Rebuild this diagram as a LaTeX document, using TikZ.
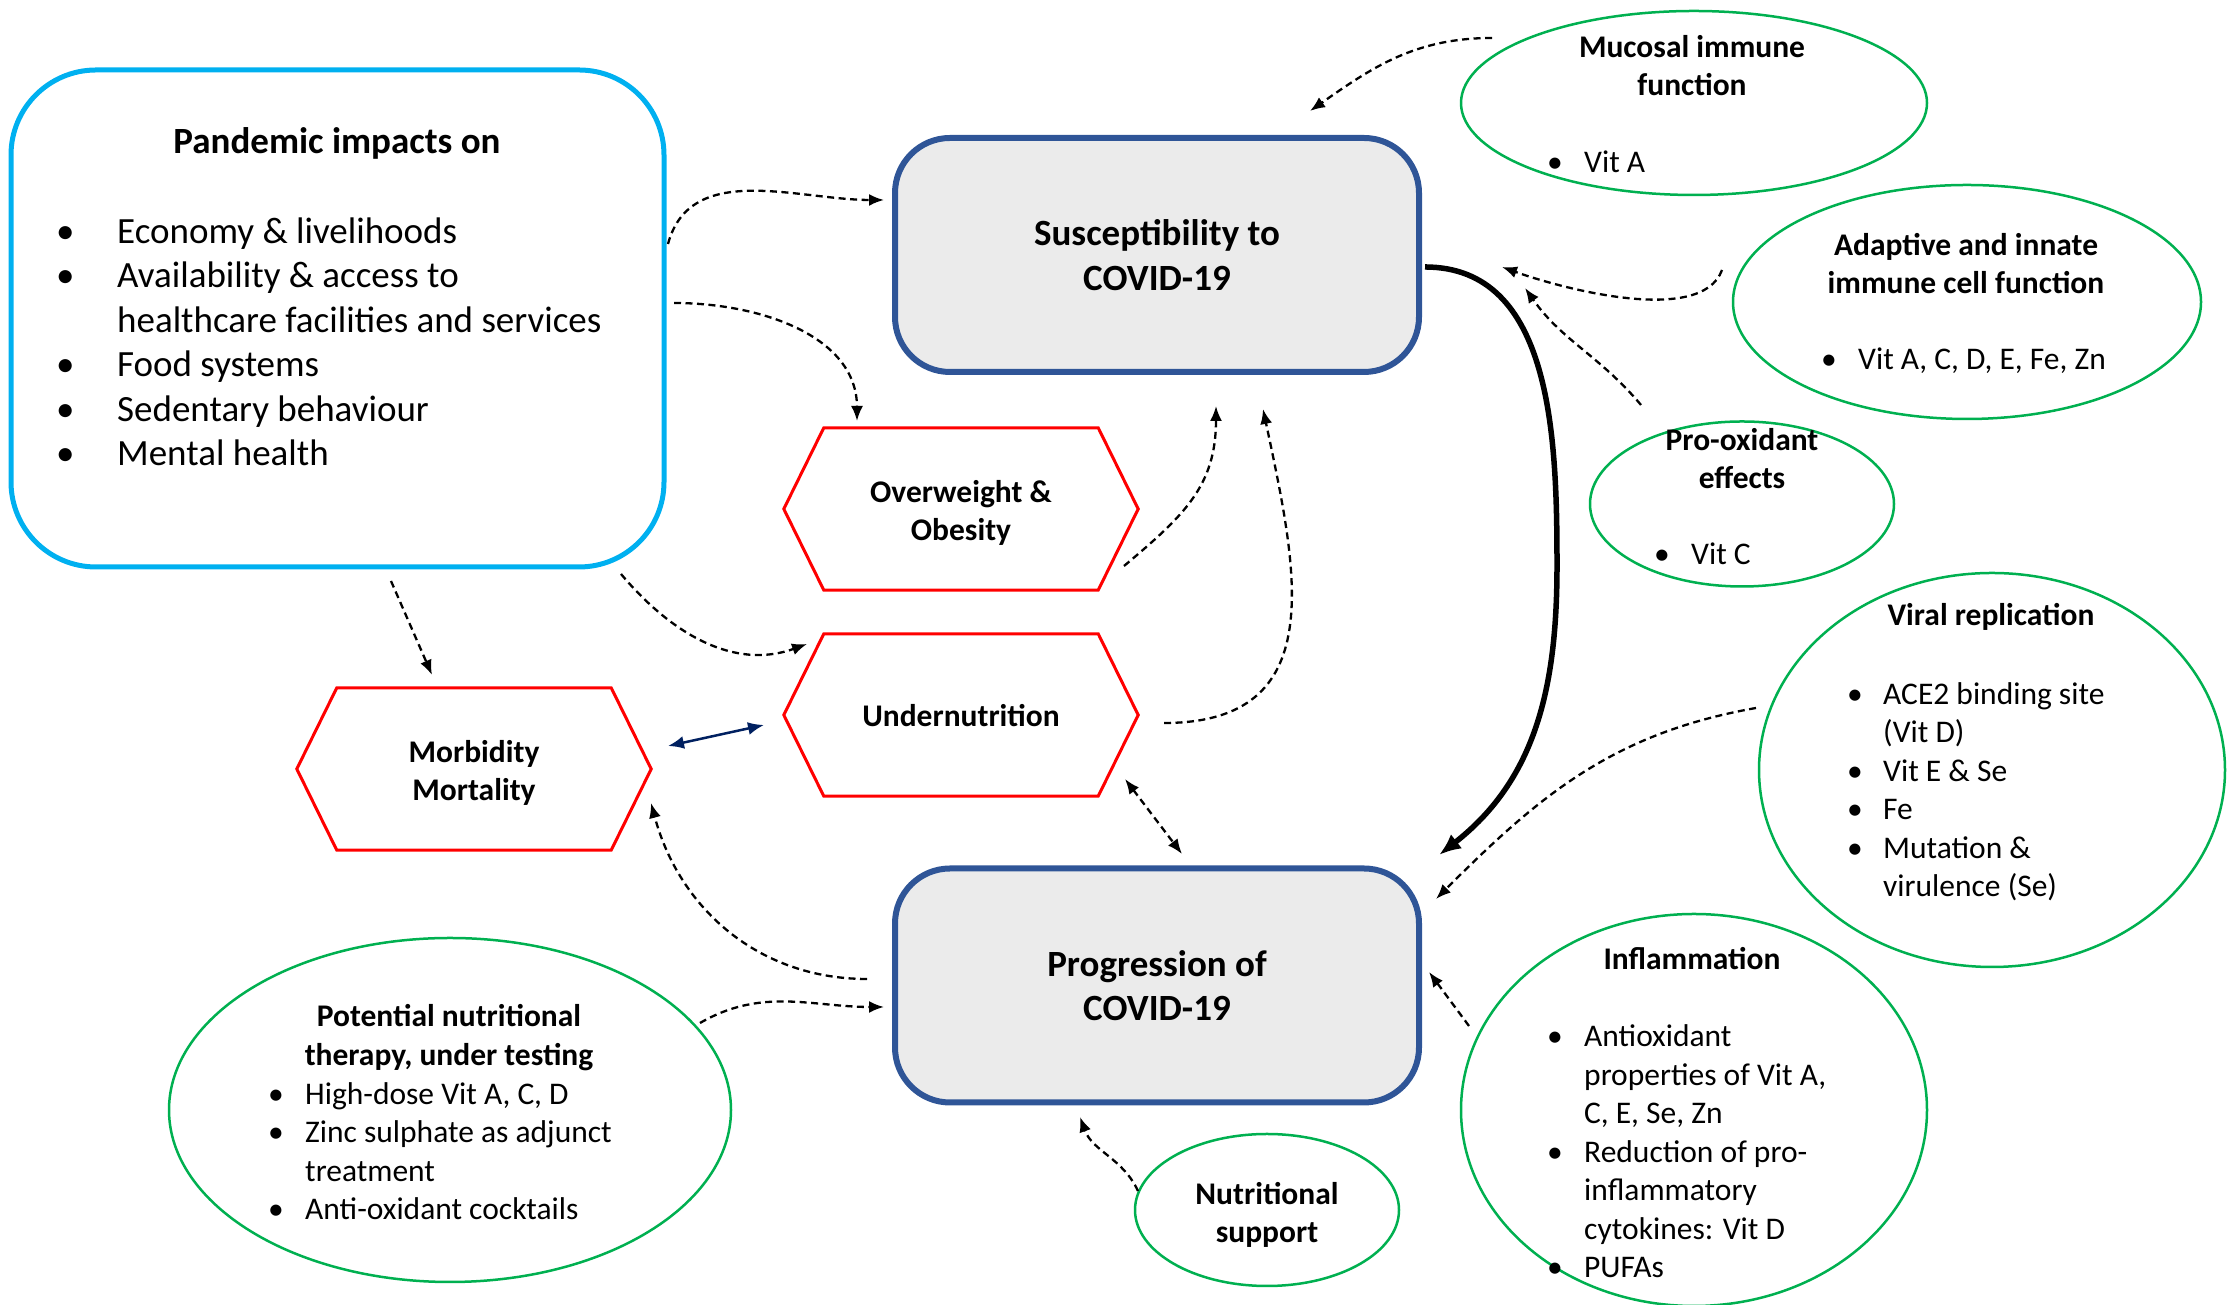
\documentclass[tikz,border=0pt]{standalone}
\usepackage{fontspec}
\setmainfont{Carlito}
\usetikzlibrary{shapes.geometric,arrows.meta,calc}
\definecolor{cyanb}{HTML}{00B0F0}
\definecolor{blueb}{HTML}{2F5597}
\definecolor{fillg}{HTML}{EBEBEB}
\definecolor{redh}{HTML}{FF0000}
\definecolor{greene}{HTML}{00B050}
\definecolor{navya}{HTML}{002060}
\newcommand{\fBig}{\fontsize{37}{44.5}\selectfont}
\newcommand{\fSm}{\fontsize{31.5}{38.5}\selectfont}
\newcommand{\bulA}[1]{\makebox[#1][l]{\textbullet}}
\newcommand{\hexag}[1]{\draw[hexline] (#1.west) -- ([xshift=40pt]#1.north west) -- ([xshift=-40pt]#1.north east) -- (#1.east) -- ([xshift=-40pt]#1.south east) -- ([xshift=40pt]#1.south west) -- cycle;}
\tikzset{
 panbox/.style={draw=cyanb, line width=5pt, rounded corners=85pt, minimum width=653pt, minimum height=497pt, inner sep=0pt},
 covbox/.style={draw=blueb, fill=fillg, line width=6pt, rounded corners=55pt, minimum width=524pt, minimum height=234pt, font=\fBig\bfseries, align=center},
 hexnode/.style={minimum width=354pt, minimum height=162pt, inner sep=0pt},
 hextxt/.style={font=\fSm\bfseries, align=center, inner sep=0pt},
 hexline/.style={draw=redh, line width=3pt},
 ell/.style={ellipse, draw=greene, line width=2.5pt, inner sep=0pt},
 ttl/.style={font=\fSm\bfseries, align=center, inner sep=0pt, anchor=north, execute at begin node=\strut},
 lst/.style={font=\fSm, align=left, inner sep=0pt, anchor=north west, execute at begin node=\strut},
 dar/.style={draw, line width=2.3pt, dash pattern=on 7pt off 4.5pt, -{Latex[length=15pt,width=12pt]}},
 ddar/.style={draw, line width=2.3pt, dash pattern=on 7pt off 4.5pt, {Latex[length=15pt,width=12pt]}-{Latex[length=15pt,width=12pt]}},
 navyar/.style={draw=navya, line width=2.5pt, {Latex[length=16pt,width=13pt]}-{Latex[length=16pt,width=13pt]}},
 thickar/.style={draw, line width=5.5pt, -{Latex[length=22pt,width=18pt]}},
}
\begin{document}
\begin{tikzpicture}[x=1pt,y=1pt]
\useasboundingbox (0,0) rectangle (2228,1305);
% main boxes
\node[panbox] (pan) at (337.5,986.5) {};
\node[font=\fBig\bfseries, anchor=base, inner sep=0pt] (pantitle) at (337,1151) {Pandemic impacts on};
\node[lst, font=\fBig] (panlist) at (56,1087.5) {\bulA{61pt}Economy \& livelihoods\\
\bulA{61pt}Availability \& access to\\
\hspace*{61pt}healthcare facilities and services\\
\bulA{61pt}Food systems\\
\bulA{61pt}Sedentary behaviour\\
\bulA{61pt}Mental health};
\node[covbox] (sus) at (1157,1050) {Susceptibility to\\COVID-19};
\node[covbox] (prog) at (1157,319.5) {Progression of\\COVID-19};
% hexagons
\node[hexnode] (ow) at (961,796) {};
\node[hexnode] (un) at (961,590) {};
\node[hexnode] (mm) at (474,536) {};
\hexag{ow}
\hexag{un}
\hexag{mm}
\node[hextxt] (owt) at ([yshift=-4]ow.center) {Overweight \&\\Obesity};
\node[hextxt] (unt) at ([yshift=-1]un.center) {Undernutrition};
\node[hextxt] (mmt) at ([yshift=-4]mm.center) {Morbidity\\Mortality};
% ellipses
\node[ell, minimum width=466pt, minimum height=184pt] (muc) at (1694,1202) {};
\node[ttl] (muct) at (1692,1270) {Mucosal immune\\function};
\node[lst] (mucl) at (1547,1159.5) {\bulA{37pt}Vit A};
\node[ell, minimum width=468pt, minimum height=234pt] (ada) at (1967,1003) {};
\node[ttl] (adat) at (1966,1072) {Adaptive and innate\\immune cell function};
\node[lst] (adal) at (1821,962.5) {\bulA{37pt}Vit A, C, D, E, Fe, Zn};
\node[ell, minimum width=304pt, minimum height=165pt] (pro) at (1742,801) {};
\node[ttl] (prot) at (1742,877) {Pro-oxidant\\effects};
\node[lst] (prol) at (1654,767.5) {\bulA{37pt}Vit C};
\node[ell, minimum width=466pt, minimum height=394pt] (vir) at (1992,535) {};
\node[ttl] (virt) at (1991,706.5) {Viral replication};
\node[lst] (virl) at (1847,623) {\bulA{36pt}ACE2 binding site\\
\hspace*{36pt}(Vit D)\\
\bulA{36pt}Vit E \& Se\\
\bulA{36pt}Fe\\
\bulA{36pt}Mutation \&\\
\hspace*{36pt}virulence (Se)};
\node[ell, minimum width=466pt, minimum height=392pt] (inf) at (1694,195) {};
\node[ttl] (inft) at (1692,362.5) {Inflammation};
\node[lst] (infl) at (1547,280.5) {\bulA{37pt}Antioxidant\\
\hspace*{37pt}properties of Vit A,\\
\hspace*{37pt}C, E, Se, Zn\\
\bulA{37pt}Reduction of pro-\\
\hspace*{37pt}inflammatory\\
\hspace*{37pt}cytokines: Vit D\\
\bulA{37pt}PUFAs};
\node[ell, minimum width=562pt, minimum height=344pt] (pot) at (450,195) {};
\node[ttl] (pott) at (449,300.5) {Potential nutritional\\therapy, under testing};
\node[lst] (potl) at (268,223) {\bulA{37pt}High-dose Vit A, C, D\\
\bulA{37pt}Zinc sulphate as adjunct\\
\hspace*{37pt}treatment\\
\bulA{37pt}Anti-oxidant cocktails};
\node[ell, minimum width=264pt, minimum height=152pt] (nut) at (1267,95) {};
\node[hextxt] (nutt) at ([yshift=-5]nut.center) {Nutritional\\support};
% connectors
\coordinate (thickmid) at (1557,739);
\draw[dar] ([shift={(330.5,74.5)}]pan.center) to[out=75,in=180] ([shift={(-273,55)}]sus.center);
\draw[dar] ([shift={(336.5,15.5)}]pan.center) to[out=0,in=90] ([shift={(-104,88)}]ow.center);
\draw[dar] ([shift={(283.5,-255.5)}]pan.center) to[out=-50,in=200] ([shift={(-154,71)}]un.center);
\draw[dar] ([shift={(53.5,-262.5)}]pan.center) -- ([shift={(-42,94)}]mm.center);
\draw[navyar] ([shift={(194,23)}]mm.center) -- ([shift={(-197,-10)}]un.center);
\draw[dar] ([shift={(163,-57)}]ow.center) to[out=40,in=-90,looseness=1.1] ([shift={(59,-151)}]sus.center);
\draw[dar] ([shift={(203,-8)}]un.center) to[out=0,in=-78,looseness=1.3] ([shift={(106,-154)}]sus.center);
\draw[ddar] ([shift={(164,-64)}]un.center) -- ([shift={(25,131.5)}]prog.center);
\draw[dar] ([shift={(-290,6.5)}]prog.center) to[out=180,in=-75] ([shift={(177,-34)}]mm.center);
\draw[dar] ([shift={(250,87)}]pot.center) to[out=30,in=180] ([shift={(-273,-21.5)}]prog.center);
\draw[dar] ([shift={(-129,19)}]nut.center) to[out=115,in=-70] ([shift={(-77,-131.5)}]prog.center);
\draw[thickar] ([shift={(268,-12)}]sus.center) to[out=0,in=90] (thickmid) to[out=-90,in=38] ([shift={(282,130.5)}]prog.center);
\draw[dar] ([shift={(-202,65)}]muc.center) to[out=180,in=35] ([shift={(153,144)}]sus.center);
\draw[dar] ([shift={(-245,32)}]ada.center) to[out=-110,in=-20,looseness=0.7] ([shift={(345,-12)}]sus.center);
\draw[dar] ([shift={(-101,99)}]pro.center) to[out=130,in=-55] ([shift={(368,-33)}]sus.center);
\draw[dar] ([shift={(-236,62)}]vir.center) to[out=190,in=45] ([shift={(279,86.5)}]prog.center);
\draw[dar] ([shift={(-225,84)}]inf.center) -- ([shift={(272,13.5)}]prog.center);
\end{tikzpicture}
\end{document}
